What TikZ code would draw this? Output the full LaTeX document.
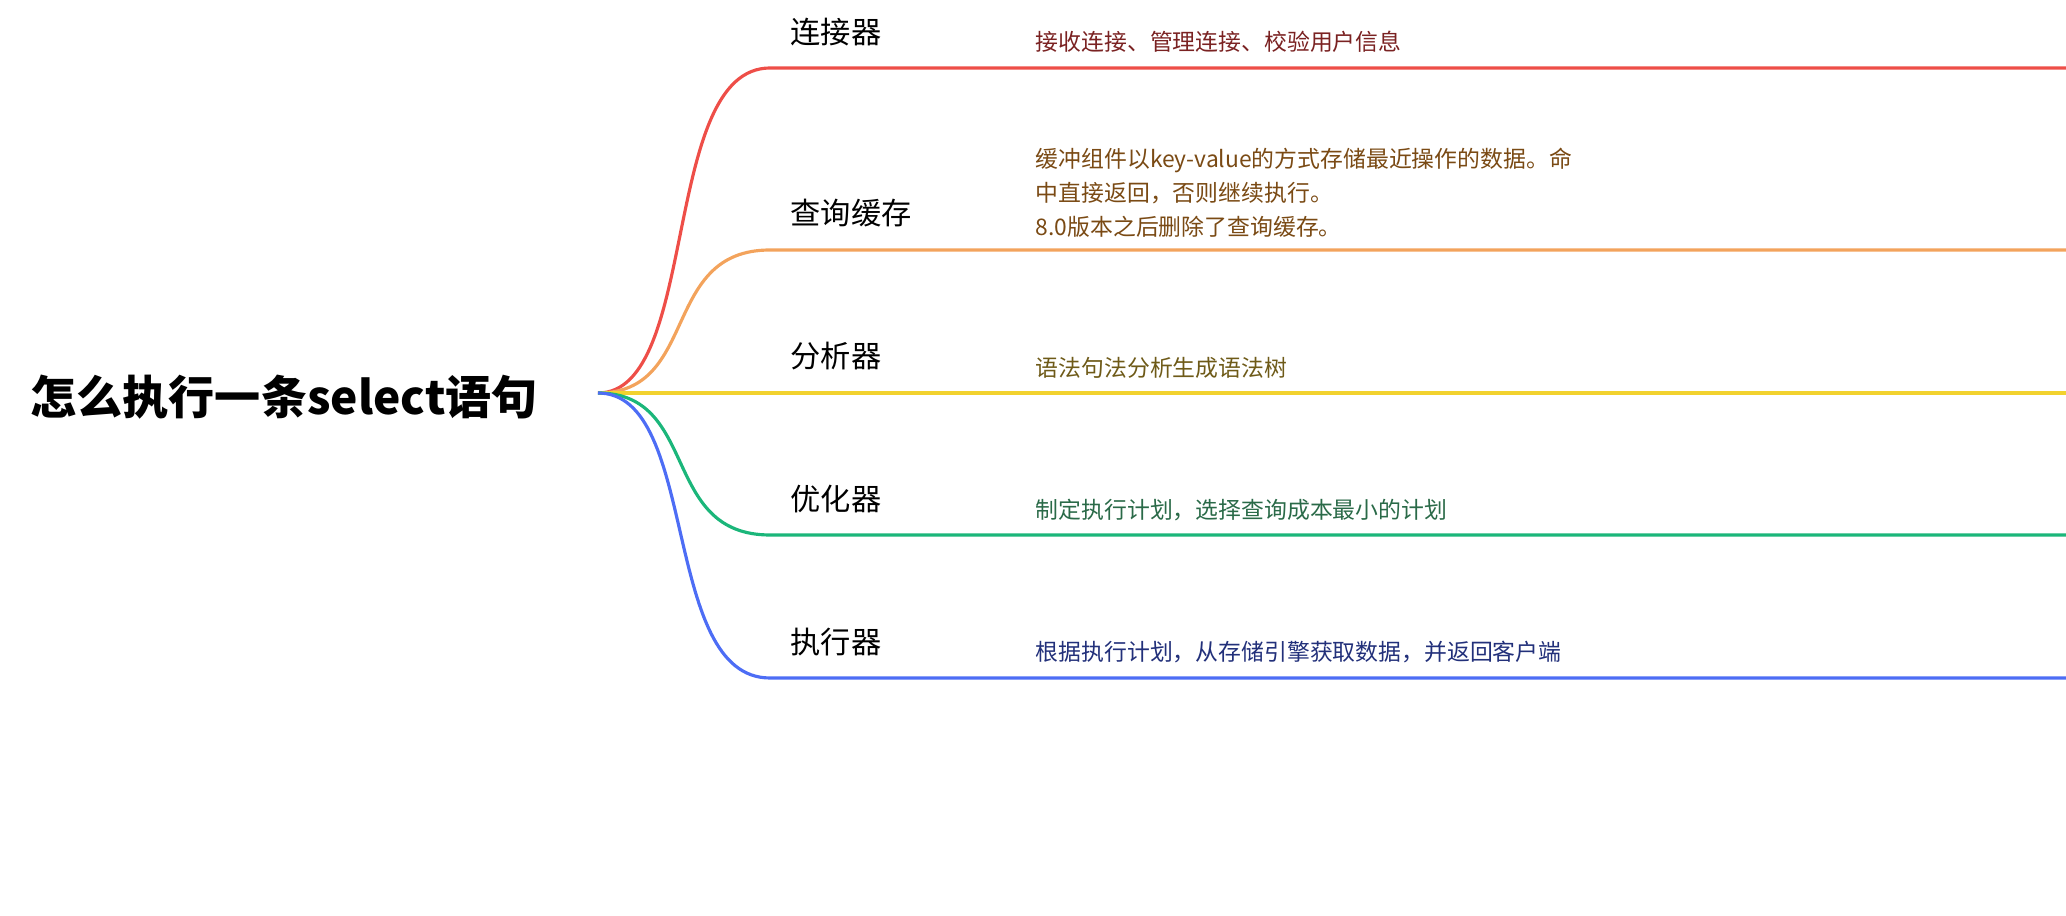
\documentclass[tikz,border=0pt]{standalone}
\usepackage{fontspec}
\setmainfont{Noto Sans CJK SC}
\usetikzlibrary{positioning}
\definecolor{cred}{HTML}{EE4E48}
\definecolor{corange}{HTML}{F3A35C}
\definecolor{cyellow}{HTML}{F2D22E}
\definecolor{cgreen}{HTML}{1BB67A}
\definecolor{cblue}{HTML}{4D6DF5}
\definecolor{tred}{HTML}{7A2222}
\definecolor{torange}{HTML}{7A4A14}
\definecolor{tyellow}{HTML}{6E5A18}
\definecolor{tgreen}{HTML}{2A6A48}
\definecolor{tblue}{HTML}{22307A}
\tikzset{
  branch/.style={line width=0.9pt},
  label/.style={anchor=west, inner sep=0pt, font=\fontsize{8.6}{10}\selectfont},
  desc/.style={anchor=west, inner sep=0pt, align=left, font=\fontsize{6.5}{9.6}\selectfont}
}
\begin{document}
\begin{tikzpicture}[x=0.01cm, y=-0.01cm]
  \useasboundingbox (0,0) rectangle (2066,916);
  \clip (0,0) rectangle (2066,916);
  \node[anchor=west, inner sep=0pt, font=\fontsize{13.1}{16}\selectfont\bfseries] (root) at (30,397) {怎么执行一条select语句};
  \coordinate (o) at (598,393);
  % branches
  \coordinate (e1) at (2066,68);
  \coordinate (e2) at (2066,250);
  \coordinate (e3) at (2066,393);
  \coordinate (e4) at (2066,535);
  \coordinate (e5) at (2066,678);
  \draw[branch, cred] (o) .. controls (700,393) and (660,68) .. (770,68) -- (e1);
  \draw[branch, corange] (o) .. controls (700,393) and (660,250) .. (770,250) -- (e2);
  \draw[branch, cyellow] (o) -- (e3);
  \draw[branch, cgreen] (o) .. controls (700,393) and (660,535) .. (770,535) -- (e4);
  \draw[branch, cblue] (o) .. controls (700,393) and (660,678) .. (770,678) -- (e5);
  % labels
  \node[label] (conn) at (790,32) {连接器};
  \node[label] (cache) at (790,213) {查询缓存};
  \node[label] (parse) at (790,356) {分析器};
  \node[label] (opt) at (790,499) {优化器};
  \node[label] (exec) at (790,642) {执行器};
  % descriptions
  \node[desc, text=tred] (dconn) at (1035,42) {接收连接、管理连接、校验用户信息};
  \node[desc, text=torange] (dcache) at (1035,193) {缓冲组件以key-value的方式存储最近操作的数据。命\\中直接返回，否则继续执行。\\8.0版本之后删除了查询缓存。};
  \node[desc, text=tyellow] (dparse) at (1035,368) {语法句法分析生成语法树};
  \node[desc, text=tgreen] (dopt) at (1035,510) {制定执行计划，选择查询成本最小的计划};
  \node[desc, text=tblue] (dexec) at (1035,652) {根据执行计划，从存储引擎获取数据，并返回客户端};
\end{tikzpicture}
\end{document}
